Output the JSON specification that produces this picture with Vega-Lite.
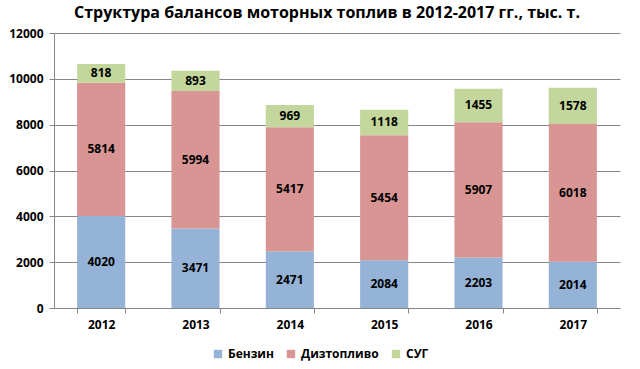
{
  "$schema": "https://vega.github.io/schema/vega-lite/v6.json",
  "width": 566,
  "height": 275,
  "autosize": {"type": "none"},
  "padding": {"left": 54, "top": 33, "right": 20, "bottom": 61},
  "background": "white",
  "title": {
    "text": "Структура балансов моторных топлив в 2012-2017 гг., тыс. т.",
    "font": "Open Sans",
    "fontSize": 16,
    "fontWeight": "bold",
    "color": "#000000",
    "anchor": "middle",
    "offset": 6,
    "dx": -10
  },
  "config": {
    "view": {"stroke": null},
    "font": "Open Sans"
  },
  "data": {
    "values": [
      {"year": "2012", "fuel": "Бензин", "ord": 1, "value": 4020},
      {"year": "2012", "fuel": "Дизтопливо", "ord": 2, "value": 5814},
      {"year": "2012", "fuel": "СУГ", "ord": 3, "value": 818},
      {"year": "2013", "fuel": "Бензин", "ord": 1, "value": 3471},
      {"year": "2013", "fuel": "Дизтопливо", "ord": 2, "value": 5994},
      {"year": "2013", "fuel": "СУГ", "ord": 3, "value": 893},
      {"year": "2014", "fuel": "Бензин", "ord": 1, "value": 2471},
      {"year": "2014", "fuel": "Дизтопливо", "ord": 2, "value": 5417},
      {"year": "2014", "fuel": "СУГ", "ord": 3, "value": 969},
      {"year": "2015", "fuel": "Бензин", "ord": 1, "value": 2084},
      {"year": "2015", "fuel": "Дизтопливо", "ord": 2, "value": 5454},
      {"year": "2015", "fuel": "СУГ", "ord": 3, "value": 1118},
      {"year": "2016", "fuel": "Бензин", "ord": 1, "value": 2203},
      {"year": "2016", "fuel": "Дизтопливо", "ord": 2, "value": 5907},
      {"year": "2016", "fuel": "СУГ", "ord": 3, "value": 1455},
      {"year": "2017", "fuel": "Бензин", "ord": 1, "value": 2014},
      {"year": "2017", "fuel": "Дизтопливо", "ord": 2, "value": 6018},
      {"year": "2017", "fuel": "СУГ", "ord": 3, "value": 1578}
    ]
  },
  "encoding": {
    "x": {
      "field": "year",
      "type": "ordinal",
      "scale": {"paddingInner": 0.49, "paddingOuter": 0.245},
      "axis": {
        "title": null,
        "labelAngle": 0,
        "labelFont": "Open Sans",
        "labelFontSize": 12,
        "labelFontWeight": "bold",
        "labelColor": "#000000",
        "labelPadding": 6,
        "tickBand": "extent",
        "tickColor": "#868686",
        "tickSize": 5,
        "domainColor": "#868686",
        "grid": false
      }
    },
    "order": {"field": "ord", "type": "quantitative"}
  },
  "layer": [
    {
      "mark": {"type": "bar"},
      "encoding": {
        "y": {
          "field": "value",
          "type": "quantitative",
          "stack": "zero",
          "scale": {"domain": [0, 12000], "nice": false},
          "axis": {
            "title": null,
            "values": [0, 2000, 4000, 6000, 8000, 10000, 12000],
            "format": "d",
            "labelFont": "Open Sans",
            "labelFontSize": 12,
            "labelFontWeight": "bold",
            "labelColor": "#000000",
            "labelPadding": 6,
            "tickColor": "#868686",
            "tickSize": 5,
            "domainColor": "#868686",
            "gridColor": "#868686",
            "gridOpacity": 1,
            "grid": true
          }
        },
        "color": {
          "field": "fuel",
          "type": "nominal",
          "scale": {
            "domain": ["Бензин", "Дизтопливо", "СУГ"],
            "range": ["#95B3D7", "#D99594", "#C3D69B"]
          },
          "legend": {
            "title": null,
            "orient": "none",
            "legendX": 158,
            "legendY": 315,
            "direction": "horizontal",
            "symbolType": "square",
            "symbolSize": 70,
            "symbolStrokeWidth": 0,
            "labelFont": "Open Sans",
            "labelFontSize": 12,
            "labelFontWeight": "bold",
            "labelColor": "#000000",
            "columnPadding": 11
          }
        }
      }
    },
    {
      "mark": {"type": "text", "font": "Open Sans", "fontSize": 12, "fontWeight": "bold", "color": "#000000", "baseline": "middle"},
      "encoding": {
        "y": {"field": "value", "type": "quantitative", "stack": "zero", "bandPosition": 0.5},
        "text": {"field": "value", "type": "quantitative", "format": "d"}
      }
    }
  ]
}
